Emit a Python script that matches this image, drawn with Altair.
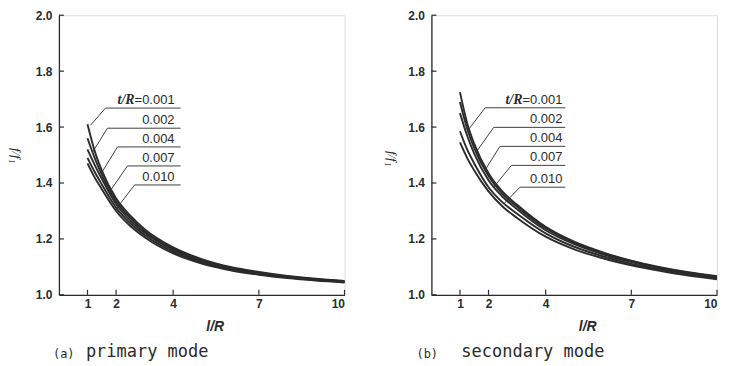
import altair as alt
import pandas as pd

# ---------------- data ----------------
x_vals = [1, 1.25, 1.5, 2, 2.5, 3, 4, 5, 6, 7, 8, 9, 10]
ratios = ["0.001", "0.002", "0.004", "0.007", "0.010"]

primary_001 = [1.610, 1.515, 1.445, 1.345, 1.283, 1.235, 1.170, 1.128, 1.100, 1.082, 1.068, 1.058, 1.050]
primary_002 = [1.560, 1.490, 1.430, 1.335, 1.275, 1.228, 1.165, 1.124, 1.097, 1.079, 1.066, 1.056, 1.048]
primary_004 = [1.520, 1.465, 1.415, 1.325, 1.266, 1.222, 1.160, 1.120, 1.094, 1.077, 1.064, 1.054, 1.047]
primary_007 = [1.490, 1.440, 1.395, 1.312, 1.256, 1.214, 1.154, 1.116, 1.091, 1.074, 1.062, 1.053, 1.046]
primary_010 = [1.470, 1.420, 1.378, 1.300, 1.246, 1.206, 1.148, 1.112, 1.088, 1.072, 1.060, 1.051, 1.044]

secondary_001 = [1.725, 1.615, 1.540, 1.435, 1.368, 1.322, 1.243, 1.190, 1.152, 1.122, 1.099, 1.081, 1.067]
secondary_002 = [1.690, 1.595, 1.525, 1.425, 1.360, 1.315, 1.238, 1.186, 1.149, 1.120, 1.097, 1.079, 1.065]
secondary_004 = [1.650, 1.570, 1.505, 1.410, 1.350, 1.306, 1.231, 1.181, 1.145, 1.117, 1.094, 1.077, 1.063]
secondary_007 = [1.585, 1.520, 1.470, 1.385, 1.330, 1.290, 1.220, 1.172, 1.138, 1.111, 1.090, 1.073, 1.060]
secondary_010 = [1.545, 1.490, 1.445, 1.370, 1.315, 1.275, 1.208, 1.163, 1.131, 1.106, 1.086, 1.069, 1.056]

y_ticks = [1.0, 1.2, 1.4, 1.6, 1.8, 2.0]
x_ticks = [1, 2, 4, 7, 10]

# label leader lines (data coordinates): curve point -> underline start
prim_lead_x0 = [1.11, 1.18, 1.49, 1.77, 1.98]
prim_lead_y0 = [1.607, 1.511, 1.436, 1.368, 1.304]
prim_lead_x1 = [1.63, 1.70, 2.05, 2.40, 2.65]
prim_lead_y1 = [1.668, 1.596, 1.529, 1.461, 1.393]
prim_line_end = 4.26
prim_text_x = 4.05

sec_lead_x0 = [1.33, 1.60, 1.87, 2.17, 2.56]
sec_lead_y0 = [1.595, 1.515, 1.445, 1.384, 1.328]
sec_lead_x1 = [1.88, 2.18, 2.40, 2.80, 3.10]
sec_lead_y1 = [1.669, 1.599, 1.531, 1.463, 1.385]
sec_line_end = 4.69
sec_text_x = 4.59

W, H = 286, 280
INK = "#2b2b2b"
LABEL_FONT = "Liberation Sans Narrow, Liberation Sans, Arial"


def make_panel(series, lx0, ly0, lx1, ly1, line_end, text_x,
               tag, caption, cap_dx, cap_main_dx, ytitle_x, ytitle_y):
    rows = []
    for r, vals in zip(ratios, series):
        for xv, yv in zip(x_vals, vals):
            rows.append({"x": xv, "y": yv, "ratio": r})
    curves = pd.DataFrame(rows)

    lead = pd.DataFrame({"x": lx0, "y": ly0, "x2": lx1, "y2": ly1})
    under = pd.DataFrame({"x": lx1, "y": ly1, "x2": [line_end] * 5, "y2": ly1})
    texts = pd.DataFrame({"x": [text_x] * 5, "y": ly1,
                          "txt": ["=0.001"] + ratios[1:]})
    tr = pd.DataFrame({"x": [text_x], "y": [ly1[0]], "txt": ["t/R"]})
    xt = pd.DataFrame({"x": x_ticks})
    yt = pd.DataFrame({"y": y_ticks})

    xs = alt.Scale(domain=[0, 10], nice=False, zero=False)
    ys = alt.Scale(domain=[1.0, 2.0], nice=False, zero=False)
    xaxis = alt.Axis(values=x_ticks, ticks=False, grid=False, domainColor=INK,
                     domainWidth=1.3, labelFont=LABEL_FONT, labelFontSize=12,
                     labelFontWeight="bold", labelColor=INK, labelPadding=4,
                     title="l/R", titleFont="Liberation Sans", titleFontStyle="italic",
                     titleFontWeight="bold", titleFontSize=14, titleColor=INK,
                     titleX=156, titleY=32, titleAlign="center", titleBaseline="middle")
    yaxis = alt.Axis(values=y_ticks, format=".1f", ticks=False, grid=False,
                     domainColor=INK, domainWidth=1.3, labelFont=LABEL_FONT,
                     labelFontSize=12, labelFontWeight="bold", labelColor=INK,
                     labelPadding=7, title="f/f₁", titleFont="Liberation Serif",
                     titleFontStyle="italic", titleFontWeight="normal",
                     titleFontSize=13, titleColor=INK, titleAngle=90,
                     titleX=ytitle_x, titleY=ytitle_y, titleAlign="center",
                     titleBaseline="middle")
    X = alt.X("x:Q", scale=xs, axis=xaxis)
    Y = alt.Y("y:Q", scale=ys, axis=yaxis)

    line_layer = alt.Chart(curves).mark_line(
        color=INK, strokeWidth=1.9, interpolate="monotone"
    ).encode(x=X, y=Y, detail="ratio:N")

    lead_layer = alt.Chart(lead).mark_rule(color=INK, strokeWidth=0.9).encode(
        x=X, y=Y, x2="x2:Q", y2="y2:Q")
    under_layer = alt.Chart(under).mark_rule(color=INK, strokeWidth=0.9).encode(
        x=X, y=Y, x2="x2:Q", y2="y2:Q")
    text_layer = alt.Chart(texts).mark_text(
        align="right", baseline="bottom", dy=-1, fontSize=13, font=LABEL_FONT,
        color=INK).encode(x=X, y=Y, text="txt:N")
    tr_layer = alt.Chart(tr).mark_text(
        align="right", baseline="bottom", dy=-1, dx=-40, fontSize=14,
        font="Liberation Serif", fontStyle="italic", fontWeight="bold",
        color=INK).encode(x=X, y=Y, text="txt:N")

    xtick_layer = alt.Chart(xt).mark_rule(color=INK, strokeWidth=1.2).encode(
        x=X, y=alt.value(H), y2=alt.value(H - 5))
    ytick_layer = alt.Chart(yt).mark_rule(color=INK, strokeWidth=1.2).encode(
        y=Y, x=alt.value(0), x2=alt.value(5))

    cap_df = pd.DataFrame({"t": [tag]})
    cap_tag = alt.Chart(cap_df).mark_text(
        align="left", baseline="middle", fontSize=12, font="DejaVu Sans Mono",
        color=INK).encode(x=alt.value(cap_dx), y=alt.value(H + 59), text="t:N")
    cap_main_df = pd.DataFrame({"t": [caption]})
    cap_main = alt.Chart(cap_main_df).mark_text(
        align="left", baseline="middle", fontSize=17, font="DejaVu Sans Mono",
        color=INK).encode(x=alt.value(cap_main_dx), y=alt.value(H + 57), text="t:N")

    return alt.layer(line_layer, lead_layer, under_layer, text_layer, tr_layer,
                     xtick_layer, ytick_layer, cap_tag, cap_main).properties(
        width=W, height=H)


left = make_panel([primary_001, primary_002, primary_004, primary_007, primary_010],
                  prim_lead_x0, prim_lead_y0, prim_lead_x1, prim_lead_y1,
                  prim_line_end, prim_text_x, "(a)", "primary mode", -6, 27, -43, 140)
right = make_panel([secondary_001, secondary_002, secondary_004, secondary_007, secondary_010],
                   sec_lead_x0, sec_lead_y0, sec_lead_x1, sec_lead_y1,
                   sec_line_end, sec_text_x, "(b)", "secondary mode", -15, 30, -40, 143)

chart = alt.hconcat(left, right, spacing=87, bounds="flush").properties(
    padding={"left": 0, "top": 0, "right": 0, "bottom": 0}
).configure_view(stroke=None).configure(background="white")

chart.save("out.html", embed_options={"renderer": "svg", "actions": False})
